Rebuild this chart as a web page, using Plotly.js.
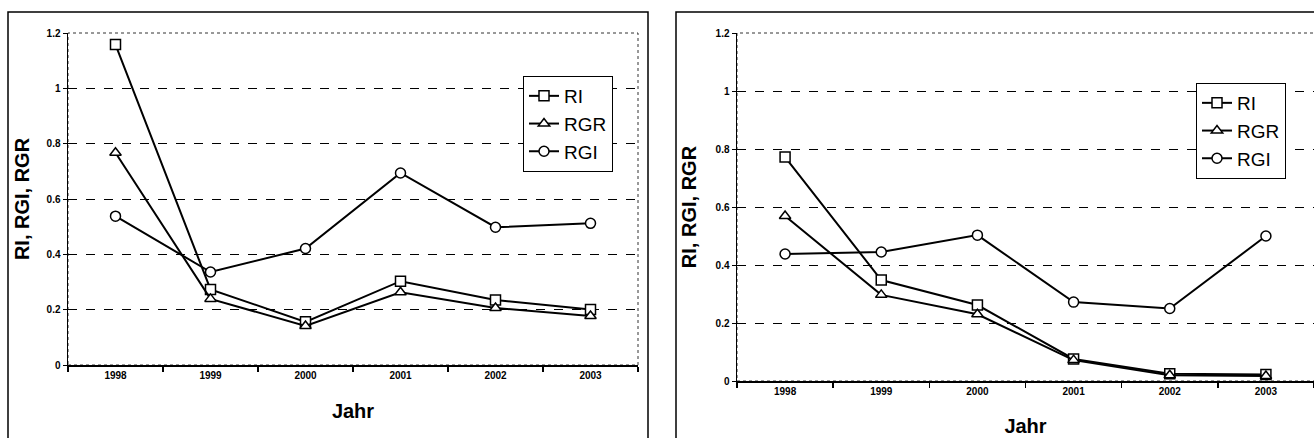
<!DOCTYPE html>
<html>
<head>
<meta charset="utf-8">
<script src="https://cdn.plot.ly/plotly-3.0.1.min.js"></script>
<style>html,body{margin:0;padding:0;background:#fff;}#chart{width:1314px;height:438px;}</style>
</head>
<body>
<div id="chart"></div>
<script>
const years = ["1998", "1999", "2000", "2001", "2002", "2003"];
const seriesNames = ["RI", "RGR", "RGI"];
const symbols = ["square", "triangle-up", "circle"];

// Left panel
const leftRI  = [1.158, 0.273, 0.156, 0.303, 0.235, 0.201];
const leftRGR = [0.767, 0.239, 0.141, 0.263, 0.206, 0.177];
const leftRGI = [0.538, 0.336, 0.421, 0.694, 0.498, 0.512];

// Right panel
const rightRI  = [0.772, 0.348, 0.262, 0.076, 0.025, 0.022];
const rightRGR = [0.569, 0.297, 0.230, 0.072, 0.020, 0.017];
const rightRGI = [0.438, 0.445, 0.503, 0.272, 0.250, 0.500];

const yTitle = "RI, RGI, RGR";
const xTitle = "Jahr";

const W = 1314, H = 438;
const px = v => v / W;
const py = v => (H - v) / H;

function mk(vals, i, xa, ya, lg) {
  return {
    x: years, y: vals, name: seriesNames[i], type: "scatter", mode: "lines+markers",
    xaxis: xa, yaxis: ya, legend: lg,
    line: {color: "#000", width: 2},
    marker: {symbol: symbols[i], size: 10, color: "#fff", line: {color: "#000", width: 1.5}}
  };
}

const data = [
  mk(leftRI, 0, "x", "y", "legend"),
  mk(leftRGR, 1, "x", "y", "legend"),
  mk(leftRGI, 2, "x", "y", "legend"),
  mk(rightRI, 0, "x2", "y2", "legend2"),
  mk(rightRGR, 1, "x2", "y2", "legend2"),
  mk(rightRGI, 2, "x2", "y2", "legend2")
];

const tickFont = {family: "Liberation Sans, Arial, sans-serif", size: 10, color: "#000", weight: "bold"};
const titleFont = {family: "Liberation Sans, Arial, sans-serif", size: 20, color: "#000", weight: "bold"};

function xax(domain, anchor, standoff) {
  return {
    domain: domain, anchor: anchor, type: "category", range: [-0.5, 5.5],
    showline: true, linecolor: "#000", linewidth: 1.5,
    ticks: "outside", ticklen: 5, tickcolor: "#000", tickwidth: 1.5, tickson: "boundaries",
    showgrid: false, zeroline: false, tickfont: tickFont,
    title: {text: xTitle, font: titleFont, standoff: standoff}
  };
}
function yax(domain, anchor, standoff) {
  return {
    domain: domain, anchor: anchor, range: [0, 1.2], dtick: 0.2, tick0: 0,
    showline: true, linecolor: "#000", linewidth: 1.5,
    ticks: "outside", ticklen: 4, tickcolor: "#000", tickwidth: 1,
    showgrid: true, gridcolor: "#000", gridwidth: 1, griddash: "dash",
    zeroline: false, tickfont: tickFont,
    title: {text: yTitle, font: titleFont, standoff: standoff}
  };
}

const legendFont = {family: "Liberation Sans, Arial, sans-serif", size: 19, color: "#000"};

const layout = {
  width: W, height: H,
  margin: {l: 0, r: 0, t: 0, b: 0},
  paper_bgcolor: "#fff", plot_bgcolor: "#fff",
  showlegend: true,
  xaxis: xax([px(68), px(638)], "y", 24),
  yaxis: yax([py(365), py(33)], "x", 11),
  xaxis2: xax([px(737), px(1314)], "y2", 23),
  yaxis2: yax([py(381), py(33)], "x2", 13),
  legend: {x: px(523), y: py(76), xanchor: "left", yanchor: "top", bgcolor: "#fff",
           bordercolor: "#000", borderwidth: 1, font: legendFont, tracegroupgap: 0, itemwidth: 30},
  legend2: {x: px(1196), y: py(83), xanchor: "left", yanchor: "top", bgcolor: "#fff",
            bordercolor: "#000", borderwidth: 1, font: legendFont, tracegroupgap: 0, itemwidth: 30},
  shapes: [
    {type: "rect", xref: "paper", yref: "paper", x0: px(8), x1: px(648), y0: py(440), y1: py(12),
     line: {color: "#000", width: 1.5}},
    {type: "rect", xref: "paper", yref: "paper", x0: px(676), x1: px(1320), y0: py(440), y1: py(12),
     line: {color: "#000", width: 1.5}},
    {type: "rect", xref: "paper", yref: "paper", x0: px(68), x1: px(638), y0: py(365), y1: py(33),
     line: {color: "#333", width: 1, dash: "dot"}, layer: "below"},
    {type: "rect", xref: "paper", yref: "paper", x0: px(737), x1: px(1316), y0: py(381), y1: py(33),
     line: {color: "#333", width: 1, dash: "dot"}, layer: "below"}
  ]
};

Plotly.newPlot("chart", data, layout, {displayModeBar: false, staticPlot: true});
</script>
</body>
</html>
